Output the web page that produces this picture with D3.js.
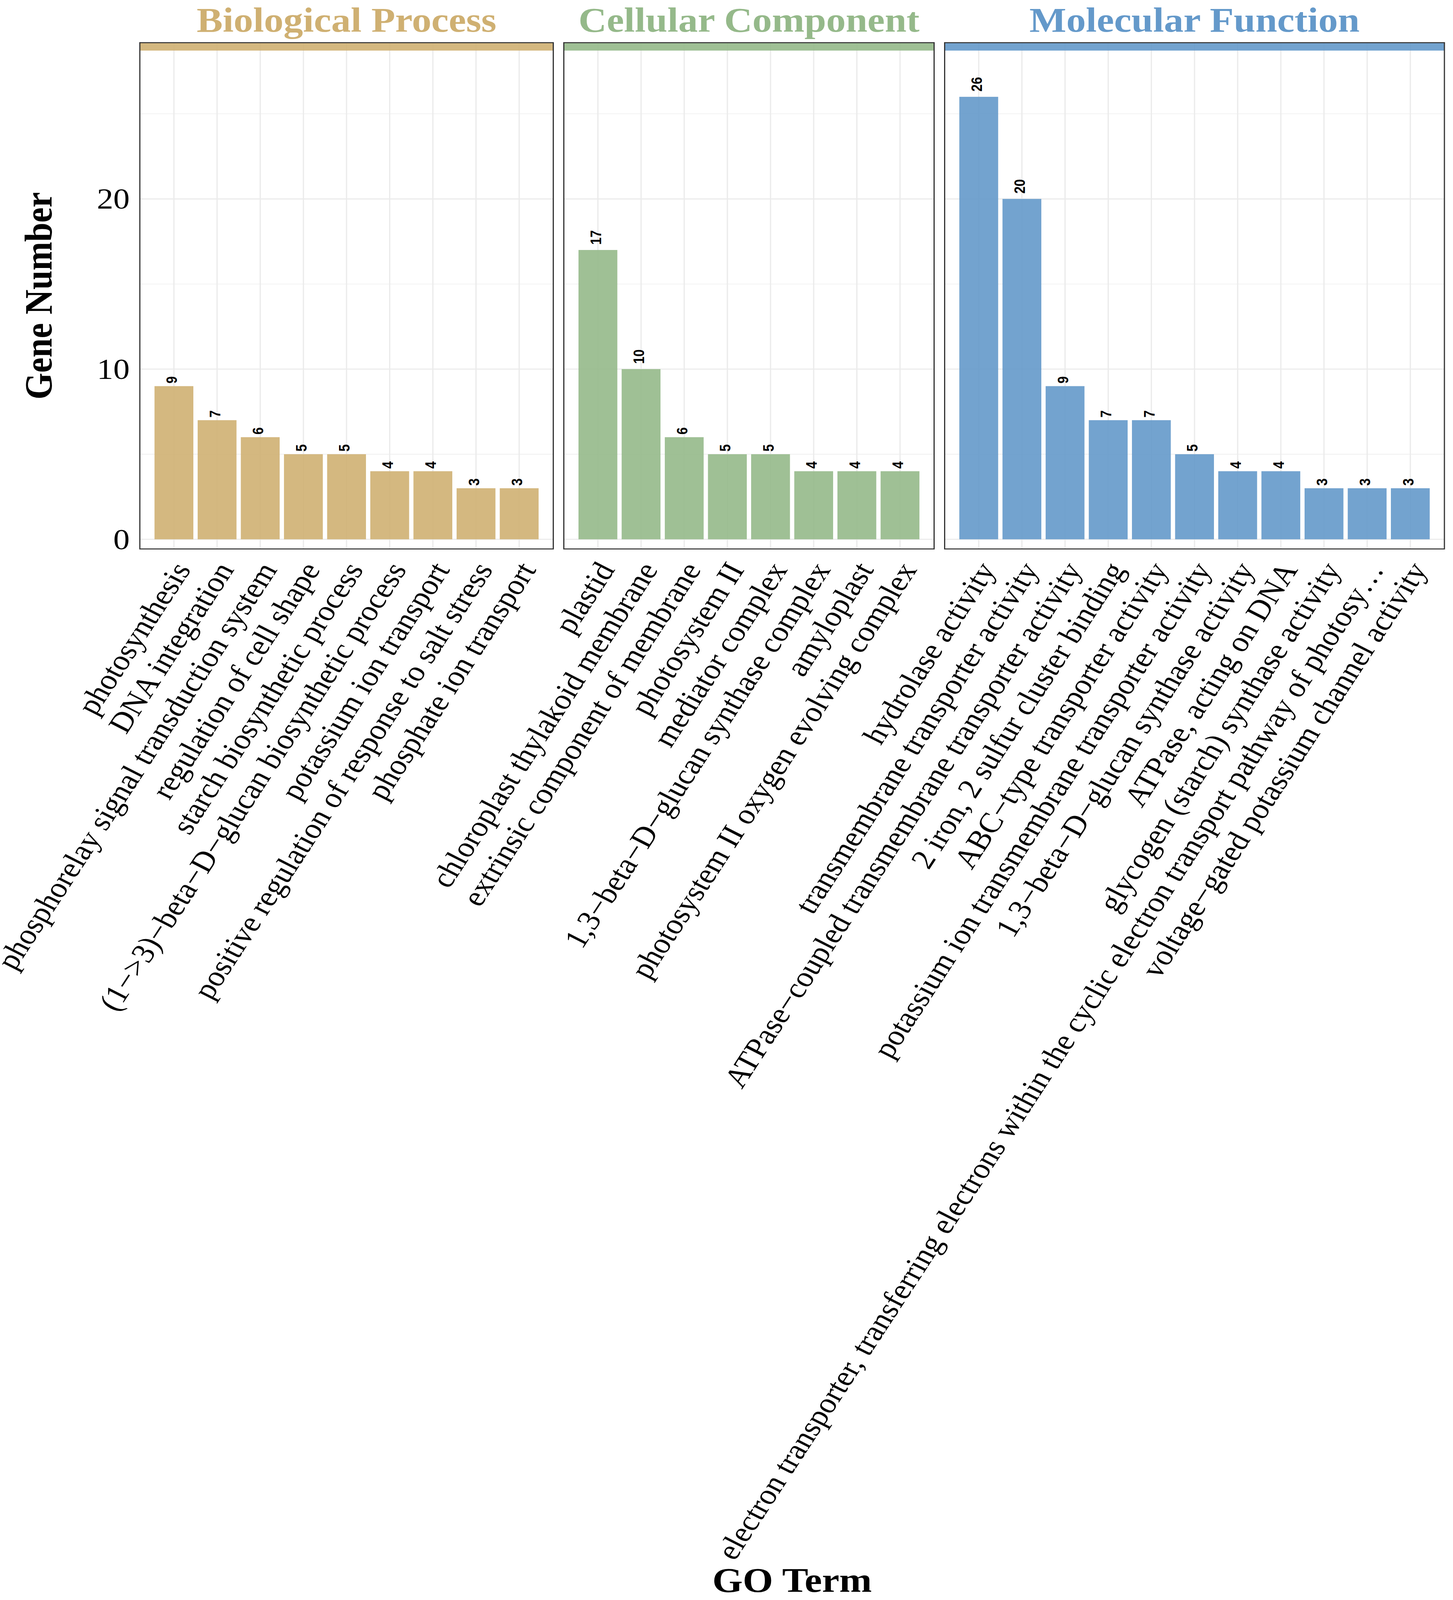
<!DOCTYPE html>
<html>
<head>
<meta charset="utf-8">
<script src="https://cdn.jsdelivr.net/npm/d3@7"></script>
<style>
  html, body { margin: 0; padding: 0; background: #fff; overflow: hidden; }
  svg { display: block; }
</style>
</head>
<body>
<svg id="chart"></svg>
<script>
// GO enrichment counts, one list per ontology
let ontologies = ["Biological Process", "Cellular Component", "Molecular Function"];
let ontoColors = ["#CFB072", "#95B98A", "#6499CA"];

let bpTerms = ["photosynthesis", "DNA integration", "phosphorelay signal transduction system",
  "regulation of cell shape", "starch biosynthetic process",
  "(1\u2212>3)\u2212beta\u2212D\u2212glucan biosynthetic process", "potassium ion transport",
  "positive regulation of response to salt stress", "phosphate ion transport"];
let bpCounts = [9, 7, 6, 5, 5, 4, 4, 3, 3];

let ccTerms = ["plastid", "chloroplast thylakoid membrane", "extrinsic component of membrane",
  "photosystem II", "mediator complex", "1,3\u2212beta\u2212D\u2212glucan synthase complex",
  "amyloplast", "photosystem II oxygen evolving complex"];
let ccCounts = [17, 10, 6, 5, 5, 4, 4, 4];

let mfTerms = ["hydrolase activity", "transmembrane transporter activity",
  "ATPase\u2212coupled transmembrane transporter activity", "2 iron, 2 sulfur cluster binding",
  "ABC\u2212type transporter activity", "potassium ion transmembrane transporter activity",
  "1,3\u2212beta\u2212D\u2212glucan synthase activity", "ATPase, acting on DNA",
  "glycogen (starch) synthase activity",
  "electron transporter, transferring electrons within the cyclic electron transport pathway of photosy\u2026",
  "voltage\u2212gated potassium channel activity"];
let mfCounts = [26, 20, 9, 7, 7, 5, 4, 4, 3, 3, 3];

let yMajor = [0, 10, 20];
let yMinor = [5, 15, 25];

let termLists = [bpTerms, ccTerms, mfTerms];
let countLists = [bpCounts, ccCounts, mfCounts];

let width = 3720, height = 4649;
let plotLeft = 358, plotRight = 3698, panelGap = 27;
let panelTop = 124, panelBottom = 1595;
let outer = 0.34, inner = 0.1;
let serif = "'Liberation Serif', 'Times New Roman', serif";
let sans = "'Liberation Sans', Arial, sans-serif";

// the window may be shorter than the figure, so squeeze the drawing to fit it
let vw = window.innerWidth || width;
let vh = Math.min(window.innerHeight || height, height);
let svg = d3.select("#chart")
  .attr("width", vw).attr("height", vh)
  .attr("viewBox", `0 0 ${width} ${height}`)
  .attr("preserveAspectRatio", "none");
svg.append("rect").attr("width", width).attr("height", height).attr("fill", "#fff");

let y = d3.scaleLinear().domain([0, 10]).range([1567, 1072.5]);

// free x space: panel width proportional to number of terms
let units = termLists.map(t => t.length - inner + 2 * outer);
let step = (plotRight - plotLeft - 2 * panelGap) / d3.sum(units);

let left = plotLeft;
termLists.forEach((terms, p) => {
  let pw = units[p] * step;
  let x = d3.scaleBand().domain(terms).range([left, left + pw])
    .paddingInner(inner).paddingOuter(outer);
  let col = ontoColors[p];
  let g = svg.append("g");

  g.append("rect").attr("x", left).attr("y", panelTop).attr("width", pw)
    .attr("height", panelBottom - panelTop).attr("fill", "#fff");

  // grid
  g.selectAll(".ymin").data(yMinor).join("line")
    .attr("x1", left).attr("x2", left + pw)
    .attr("y1", d => y(d)).attr("y2", d => y(d))
    .attr("stroke", "#EBEBEB").attr("stroke-width", 1.6);
  g.selectAll(".ymaj").data(yMajor).join("line")
    .attr("x1", left).attr("x2", left + pw)
    .attr("y1", d => y(d)).attr("y2", d => y(d))
    .attr("stroke", "#EBEBEB").attr("stroke-width", 3.2);
  g.selectAll(".xmaj").data(terms).join("line")
    .attr("x1", d => x(d) + x.bandwidth() / 2).attr("x2", d => x(d) + x.bandwidth() / 2)
    .attr("y1", panelTop).attr("y2", panelBottom)
    .attr("stroke", "#EBEBEB").attr("stroke-width", 3.2);

  let data = terms.map((t, i) => ({ term: t, n: countLists[p][i] }));

  g.selectAll(".bar").data(data).join("rect")
    .attr("x", d => x(d.term)).attr("width", x.bandwidth())
    .attr("y", d => y(d.n)).attr("height", d => y(0) - y(d.n))
    .attr("fill", col).attr("fill-opacity", 0.9);

  // coloured band at the top of the panel
  g.append("rect").attr("x", left).attr("y", panelTop + 1).attr("width", pw)
    .attr("height", 22).attr("fill", col).attr("fill-opacity", 0.9);

  g.append("rect").attr("x", left).attr("y", panelTop).attr("width", pw)
    .attr("height", panelBottom - panelTop).attr("fill", "none")
    .attr("stroke", "#333").attr("stroke-width", 3);

  // value labels
  g.selectAll(".val").data(data).join("text")
    .text(d => d.n)
    .attr("font-family", sans).attr("font-weight", "bold").attr("font-size", 38)
    .attr("fill", "#000")
    .each(function(d) {
      let len = this.getComputedTextLength();
      let cx = x(d.term) + x.bandwidth() / 2;
      d3.select(this).attr("transform",
        `translate(${cx + 8},${y(d.n) - 0.36 * len}) rotate(-90)`);
    });

  // term labels
  g.selectAll(".term").data(terms).join("text")
    .text(d => d)
    .attr("font-family", serif).attr("font-size", 83).attr("fill", "#000")
    .attr("text-anchor", "end")
    .attr("transform", d => `translate(${x(d) + x.bandwidth() / 2 + 45},1655) rotate(-60)`);

  // strip title
  svg.append("text").text(ontologies[p])
    .attr("x", left + pw / 2).attr("y", 92)
    .attr("text-anchor", "middle")
    .attr("font-family", serif).attr("font-weight", "bold").attr("font-size", 100)
    .attr("fill", col);

  left += pw + panelGap;
});

// y axis labels
svg.selectAll(".ytick").data(yMajor).join("text")
  .text(d => d)
  .attr("x", 332).attr("y", d => y(d)).attr("dy", "0.34em")
  .attr("text-anchor", "end")
  .attr("font-family", serif).attr("font-size", 84).attr("fill", "#000");

svg.append("text").text("Gene Number")
  .attr("transform", `translate(132,${(panelTop + panelBottom) / 2}) rotate(-90)`)
  .attr("text-anchor", "middle")
  .attr("font-family", serif).attr("font-weight", "bold").attr("font-size", 100);

svg.append("text").text("GO Term")
  .attr("x", (plotLeft + plotRight) / 2).attr("y", 4625)
  .attr("text-anchor", "middle")
  .attr("font-family", serif).attr("font-weight", "bold").attr("font-size", 100);
</script>
</body>
</html>
